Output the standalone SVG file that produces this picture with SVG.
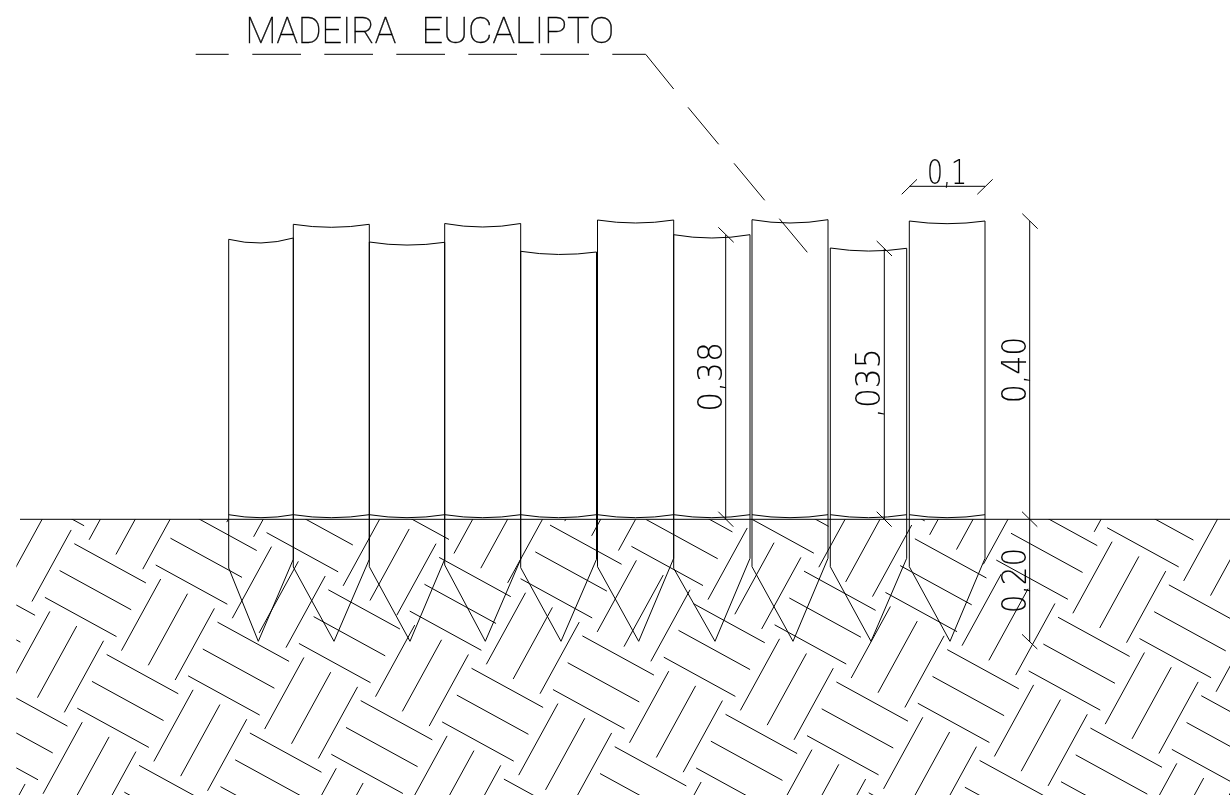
<svg xmlns="http://www.w3.org/2000/svg" xmlns:xlink="http://www.w3.org/1999/xlink" width="1230" height="795" viewBox="0 0 1230 795">
<style>
line,path{stroke:#000;stroke-width:1;fill:none}
.h line{stroke-width:.9}
#labels{opacity:.995}
text{font-family:"Roboto","Liberation Sans",sans-serif;font-weight:100;fill:#000;stroke:#000;stroke-width:.35;white-space:pre}
.d{font-family:"DejaVu Sans ExtraLight","DejaVu Sans",sans-serif;font-weight:200;font-size:33px;stroke-width:.1}
</style>
<defs>
<clipPath id="soil"><rect x="16.3" y="519.3" width="1214" height="276"/></clipPath>
<g id="tile">
<line x1="0" y1="0" x2="71.6" y2="39.23"/>
<line x1="-14.7" y1="26.83" x2="56.9" y2="66.06"/>
<line x1="-29.4" y1="53.66" x2="42.2" y2="92.89"/>
<line x1="86.4" y1="35.3" x2="47.17" y2="106.9"/>
<line x1="113.24" y1="50" x2="74.01" y2="121.6"/>
<line x1="140.08" y1="64.7" x2="100.85" y2="136.3"/>
</g>
<g id="row">
<use xlink:href="#tile" href="#tile" x="-332.49" y="97.11"/>
<use xlink:href="#tile" href="#tile" x="-221.66" y="64.74"/>
<use xlink:href="#tile" href="#tile" x="-110.83" y="32.37"/>
<use xlink:href="#tile" href="#tile" x="0" y="0"/>
<use xlink:href="#tile" href="#tile" x="110.83" y="-32.37"/>
<use xlink:href="#tile" href="#tile" x="221.66" y="-64.74"/>
<use xlink:href="#tile" href="#tile" x="332.49" y="-97.11"/>
<use xlink:href="#tile" href="#tile" x="443.32" y="-129.48"/>
<use xlink:href="#tile" href="#tile" x="554.15" y="-161.85"/>
<use xlink:href="#tile" href="#tile" x="664.98" y="-194.22"/>
<use xlink:href="#tile" href="#tile" x="775.81" y="-226.59"/>
<use xlink:href="#tile" href="#tile" x="886.64" y="-258.96"/>
<use xlink:href="#tile" href="#tile" x="997.47" y="-291.33"/>
<use xlink:href="#tile" href="#tile" x="1108.3" y="-323.7"/>
<use xlink:href="#tile" href="#tile" x="1219.13" y="-356.07"/>
</g>
</defs>
<g id="hatch" class="h" clip-path="url(#soil)">
<g transform="translate(74.3 543.7)">
<use xlink:href="#row" href="#row" x="-64.74" y="-221.66"/>
<use xlink:href="#row" href="#row" x="-32.37" y="-110.83"/>
<use xlink:href="#row" href="#row" x="0" y="0"/>
<use xlink:href="#row" href="#row" x="32.37" y="110.83"/>
<use xlink:href="#row" href="#row" x="64.74" y="221.66"/>
<use xlink:href="#row" href="#row" x="97.11" y="332.49"/>
<use xlink:href="#row" href="#row" x="129.48" y="443.32"/>
<use xlink:href="#row" href="#row" x="161.85" y="554.15"/>
<use xlink:href="#row" href="#row" x="194.22" y="664.98"/>
</g>
</g>
<line id="ground" x1="20" y1="519.3" x2="1230" y2="519.3"/>
<g id="piles">
<g id="pile1"><path d="M228.7 568V239.3Q261 247.3 293.3 238V559.3L258.3 641.3Z"/><path d="M228.7 514.7Q261 520.7 293.3 514.7"/></g>
<g id="pile2"><path d="M293.3 567V224.3Q331.3 230.3 369.3 224.3V559.3L334 641.3Z"/><path d="M293.3 514.7Q331.3 520.7 369.3 514.7"/></g>
<g id="pile3"><path d="M369.3 566.7V242Q407 248 444.7 242.3V559.3L410 641.3Z"/><path d="M369.3 514.7Q407 520.7 444.7 514.7"/></g>
<g id="pile4"><path d="M444.7 565V223.5Q482.7 230.5 520.7 223.5V559.3L485.3 641.3Z"/><path d="M444.7 514.7Q482.7 520.7 520.7 514.7"/></g>
<g id="pile5"><path d="M520.7 567.7V251.3Q558.6 257.3 596.5 252V559.3L561 641.3Z"/><path d="M520.7 514.7Q558.6 520.7 596.5 514.7"/></g>
<g id="pile6"><path d="M597.5 566.7V220Q635.6 226 673.7 220V558.3L638.7 641.3Z"/><path d="M597.5 514.7Q635.6 520.7 673.7 514.7"/></g>
<g id="pile7"><path d="M673.7 568.3V234.7Q711.8 241.3 750 234.7V558.3L715 641.3Z"/><path d="M673.7 514.7Q711.8 520.7 750 514.7"/></g>
<g id="pile8"><path d="M752 566.7V219.7Q790 226.3 828 219.7V558.3L793 641.3Z"/><path d="M752 514.7Q790 520.7 828 514.7"/></g>
<g id="pile9"><path d="M830.3 566.7V248Q868.5 254 906.7 248.3V558.3L871 641.3Z"/><path d="M830.3 514.7Q868.5 520.7 906.7 514.7"/></g>
<g id="pile10"><path d="M909.3 566.7V221Q947 226.4 985 221V558.3L950 641.3Z"/><path d="M909.3 514.7Q947 520.7 985 514.7"/></g>
</g>
<g id="connectors">
<g id="leader">
<line x1="195.7" y1="54.3" x2="228.7" y2="54.3"/>
<line x1="252.3" y1="54.3" x2="301" y2="54.3"/>
<line x1="324.3" y1="54.3" x2="373" y2="54.3"/>
<line x1="396.3" y1="54.3" x2="445" y2="54.3"/>
<line x1="468.3" y1="54.3" x2="517" y2="54.3"/>
<line x1="540.3" y1="54.3" x2="589" y2="54.3"/>
<path d="M612.3 54.3H645.7L673.7 89"/>
<line x1="688" y1="107.3" x2="718.7" y2="144.3"/>
<line x1="734" y1="163.3" x2="764.7" y2="200.3"/>
<line x1="779.3" y1="218.7" x2="807.3" y2="252.3"/>
</g>
<g id="dim-038">
<line x1="725.7" y1="235" x2="725.7" y2="519.3"/>
<line x1="718.3" y1="227.3" x2="733.7" y2="242.3"/>
<line x1="718.3" y1="511.7" x2="733.3" y2="526.7"/>
</g>
<g id="dim-035">
<line x1="884.3" y1="248.7" x2="884.3" y2="519.3"/>
<line x1="876.7" y1="241" x2="892" y2="256"/>
<line x1="876.7" y1="511.7" x2="891.7" y2="526.7"/>
</g>
<g id="dim-040">
<line x1="1029.7" y1="221" x2="1029.7" y2="642"/>
<line x1="1022.3" y1="213.7" x2="1037.7" y2="228.7"/>
<line x1="1022" y1="511.7" x2="1037.3" y2="526.7"/>
<line x1="1022" y1="634.3" x2="1037.3" y2="649"/>
</g>
<g id="dim-01">
<line x1="909.3" y1="186.3" x2="985" y2="186.3"/>
<line x1="901.7" y1="194.3" x2="917" y2="179.3"/>
<line x1="977.3" y1="194.3" x2="992.7" y2="179.3"/>
</g>
</g>
<g id="labels">
<text y="42.7" font-size="36" xml:space="preserve"><tspan x="245.5" textLength="168" lengthAdjust="spacingAndGlyphs">MADEIRA  </tspan><tspan x="421.5" textLength="192.5" lengthAdjust="spacingAndGlyphs">EUCALIPTO</tspan></text>
<text class="d" x="927" y="183.5" textLength="40" lengthAdjust="spacingAndGlyphs">0,1</text>
<text class="d" transform="translate(722.3 411.7) rotate(-90)" textLength="69.5" lengthAdjust="spacingAndGlyphs">0,38</text>
<text class="d" transform="translate(880 418) rotate(-90)" textLength="69.7" lengthAdjust="spacingAndGlyphs">,035</text>
<text class="d" transform="translate(1025.7 403.3) rotate(-90)" textLength="66.6" lengthAdjust="spacingAndGlyphs">0,40</text>
<text class="d" transform="translate(1026 613.3) rotate(-90)" textLength="65.6" lengthAdjust="spacingAndGlyphs">0,20</text>
</g>
</svg>
